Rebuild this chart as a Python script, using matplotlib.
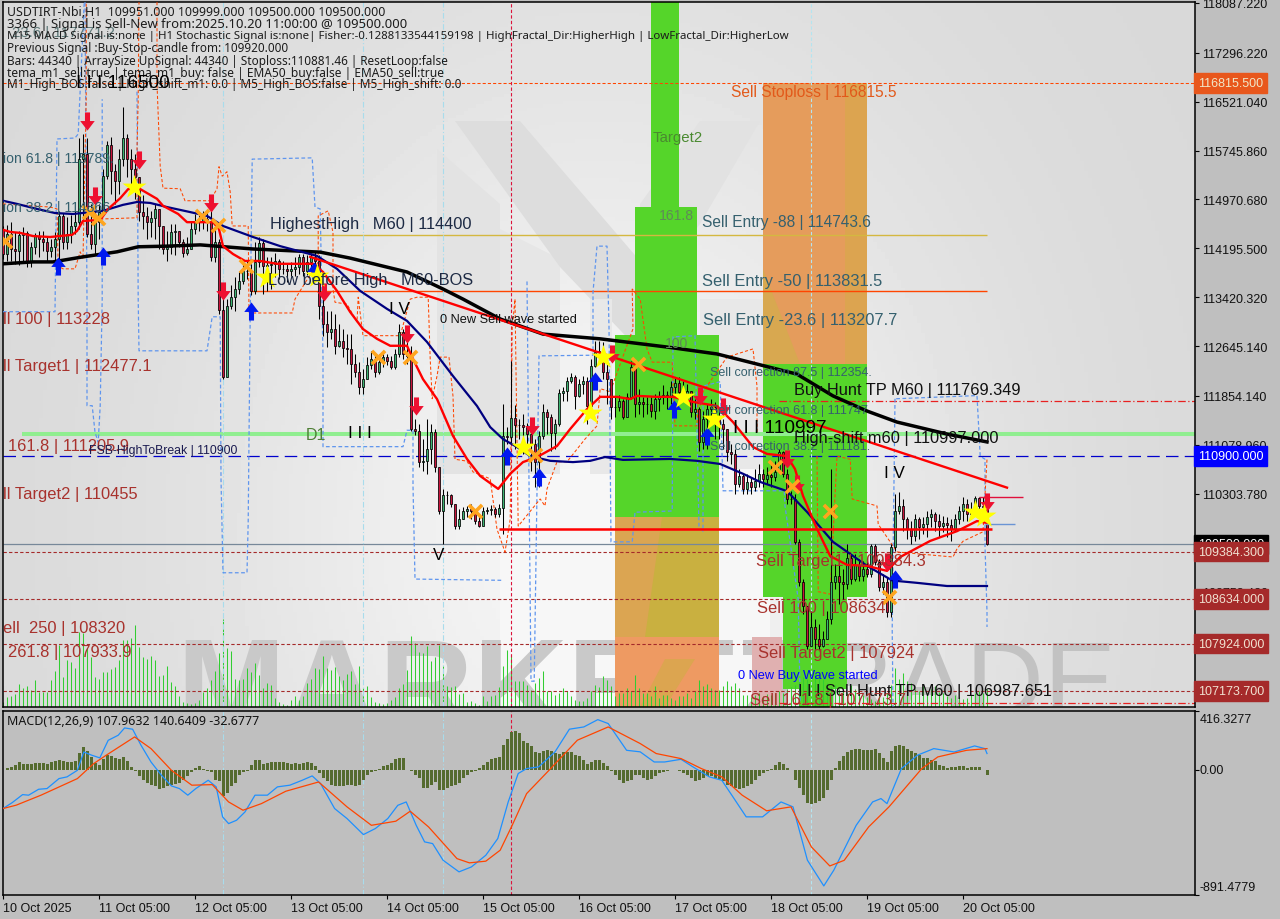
import numpy as np
import matplotlib
matplotlib.use("Agg")
import matplotlib.pyplot as plt
from matplotlib.patches import Polygon, Rectangle
from matplotlib.transforms import Affine2D

# ---------- OHLC ----------
first_open = 114500
close = [114100,114420,114180,114150,114410,114440,113980,114220,114390,114340,
114300,114150,114220,114340,114710,114300,114420,114550,114610,115610,
115690,114420,114260,114610,114770,115340,115830,115420,115260,115610,
115950,115610,115450,115330,114770,114710,114610,114680,114820,114550,
114180,114220,114450,114470,114300,114120,114180,114500,114610,114630,
114660,114630,114060,114300,113220,112160,113280,113420,113550,113680,
113840,113840,113520,113980,114280,113920,113930,113950,114000,113870,
113870,113840,113870,113900,114060,113840,113980,114060,114000,113280,
112990,112870,112920,112650,112730,112620,112600,112360,112230,111990,
112120,112350,112440,112230,112390,112470,112410,112310,112520,112870,
112520,112490,111330,111300,110810,110820,111010,111280,110730,110030,
110280,110280,110140,109790,109900,110030,110060,110030,109870,109790,
110030,110050,110060,109980,110080,111220,111200,111510,111390,111390,
111360,111250,111090,110810,111220,111600,111520,111270,111410,111900,
111930,112090,112160,111850,112040,112090,111700,112330,112550,112570,
112230,112120,111680,111680,111770,111520,111840,112310,111730,111760,
111730,111730,111620,111810,111840,111870,111840,112000,112060,111920,
111840,111930,111600,111650,111130,111490,111650,111680,111490,111410,
111330,110970,110930,110460,110580,110380,110490,110410,110510,110620,
110540,110600,110570,110650,110970,110620,110220,110220,109540,108900,
108520,107890,108190,108000,107890,108000,108320,108900,109000,108900,
108870,109280,108950,109170,109000,109110,109030,109480,109220,108820,
108900,108430,109460,110030,110110,109900,109740,109630,109900,109780,
109820,109930,109980,109870,109790,109840,109810,109740,109900,110030,
110140,109980,110060,110240,110110,110090,109500]
high = [114550,114570,114610,114450,114470,114530,114470,114300,114440,114470,
114470,114380,114340,114450,114790,114760,114690,114730,114790,115950,
116010,115950,114900,114790,114900,115450,115900,115960,115530,115770,
116440,116010,115770,115690,115140,115040,114850,114790,114900,114740,
114500,114470,114580,114580,114470,114340,114380,114630,114740,114730,
114790,114790,114850,114500,114340,113390,113390,113610,113740,113820,
113950,114000,113950,114300,114380,114340,114060,114060,114120,114030,
114000,113950,113980,114060,114110,114110,114090,114120,114150,114090,
113390,113200,113200,113150,112990,112920,112840,112840,112520,112390,
112280,112470,112570,112520,112520,112570,112520,112490,112600,112990,
112920,112840,112650,111490,111410,111170,111490,111410,111330,110730,
110380,110350,110300,110140,110060,110090,110110,110140,110060,109980,
110090,110090,110120,110090,110140,111730,111360,112410,111710,111490,
111570,111430,111330,111170,111300,111730,111650,111570,111490,111960,
112000,112160,112220,112190,112120,112170,112160,112440,112730,112730,
112710,112410,111890,111840,111870,111810,111900,112410,112410,111960,
111840,111840,111840,111890,111930,112030,111930,112090,112160,112160,
112090,112040,111930,111810,111680,111620,111730,111810,111760,111650,
111490,111330,111090,111010,110700,110620,110620,110570,110700,110780,
110700,110730,110760,110820,111010,110980,110700,110350,110300,109590,
108950,108470,108440,108320,108240,108130,108440,110700,109190,109190,
109110,109510,109350,109350,109270,109240,109270,109510,109510,109270,
109030,108980,109510,110300,110330,110220,109930,109870,109980,109930,
109930,110030,110060,110010,109980,109950,109930,109900,109980,110110,
110250,110220,110170,110270,110250,110250,110090]
low = [114030,114000,114000,113950,113930,114000,113900,113900,114110,114060,
114150,114000,114060,114000,114000,114180,114180,114280,114420,114500,
114630,114380,114180,114110,114340,114740,115300,115060,114900,115060,
115500,115330,115140,114980,114630,114500,114340,114380,114340,114180,
114110,114000,114110,114090,114220,114060,114090,114220,114420,114470,
114500,114470,114000,113980,113150,112120,112160,113230,113200,113470,
113630,113710,113460,113470,113900,113470,113520,113550,113740,113710,
113790,113660,113760,113760,113790,113760,113770,113840,113790,113080,
112800,112630,112760,112520,112630,112470,112360,112040,112160,111890,
111890,112160,112280,112160,112200,112310,112350,112280,112280,112470,
112440,112360,111300,111240,110730,110660,110620,110780,110650,109980,
109510,110140,110090,109740,109740,109900,109930,109900,109820,109780,
109820,109980,109970,109930,109930,109660,111090,111090,111010,111170,
110930,111010,110660,110410,110410,111170,111250,110980,111010,111380,
111770,111770,112060,111650,111840,111890,111410,111680,112310,112410,
112120,111730,111490,111520,111620,111490,111570,111810,111520,111570,
111520,111570,111520,111490,111620,111730,111650,111730,111840,111810,
111770,111730,111520,111490,110980,111010,111010,111490,111170,111170,
111010,110820,110780,110300,110410,110300,110300,110300,110350,110410,
110410,110460,110410,110510,110700,110570,110140,110140,109510,108840,
108400,107840,107970,107840,107840,107870,108000,108240,108790,108550,
108630,108790,108870,108920,108920,108920,108980,108980,109170,108760,
108710,108350,108350,109400,109980,109710,109590,109510,109550,109590,
109660,109620,109780,109710,109620,109700,109620,109550,109710,109820,
109870,109870,109900,109980,109980,109930,109490]
volume = [5,10,11,13,23,19,21,17,27,15,15,15,27,36,62,
30,47,45,39,75,74,59,50,30,28,35,35,38,40,47,67,67,69,82,60,50,48,51,47,31,32,41,25,21,11,5,4,3,4,7,15,19,27,36,54,88,59,56,28,27,28,39,35,44,32,19,24,22,9,5,3,2,7,11,7,11,24,28,39,38,51,39,37,40,31,27,33,36,23,41,19,21,10,5,4,3,4,7,10,19,23,37,71,64,55,54,61,46,50,62,41,21,20,21,13,14,5,6,4,2,11,6,11,12,20,
41,57,52,26,26,26,22,17,24,29,36,16,16,12,14,19,16,11,7,6,6,9,16,22,20,31,27,21,11,14,14,19,16,32,19,14,14,11,21,9,12,12,9,7,11,11,14,9,16,27,21,23,19,17,17,21,26,21,24,19,12,12,
10,12,14,11,13,12,14,16,14,18,20,22,25,30,28,26,34,30,28,24,20,22,18,16,14,22,18,16,12,10,8,6,12,10,14,22,
39,28,34,26,24,18,16,21,14,18,21,15,14,11,9,12,10,8,9,12,14,16,14,18]

# ---------- moving averages ----------
red_bars = [0,1.8,4.3,7.5,11.8,17.3,18.5,20,24.3,26.3,29.3,31.3,34.3,38.5,40,43.8,46,49.8,52.5,54,55,57.5,60.5,64.3,68.5,72.5,77.5,80,83.5,86.8,90,93.5,96.8,101,102.5,105,108.5,112.5,116,119.3,123.8,126.8,130,133.5,138.5,141.8,146,149.3,153.5,156.8,158.5,163.5,167.5,172.5,178.5,182.5,187.5,191,196,198,200,203.5,206.8,211,216,221,224.3,231.8,238.5,243.5,246]
red_vals = [114490,114455,114440,114390,114375,114410,114470,114630,114645,114820,114990,115135,115135,114980,114870,114740,114610,114610,114610,114500,114230,114105,113995,113995,113950,113950,113950,113820,113520,113185,112915,112760,112650,112650,112440,112120,111805,111220,110855,110585,110380,110620,110805,110885,111060,111330,111645,111840,111840,111805,111855,111840,111840,111760,111695,111440,111045,110935,110900,110695,110270,109745,109315,109175,109160,109080,109300,109555,109710,109870,109840]
navy_bars = [0,3.5,8.5,13,17.5,25,30,33.5,36.8,41,46.8,51,55,62.5,69.3,78.5,83.5,89.3,96,101,106,112.5,118.5,121.8,125,128.5,131.8,136.8,142.5,146.8,150.5,155,166.8,173.5,179.3,185,189.3,196,201,207.5,216,222.5,223.5,228.5,236,246]
navy_vals = [114950,114900,114820,114755,114740,114790,114885,114930,114915,114850,114770,114710,114550,114375,114230,114075,113870,113520,113235,113045,112710,112170,111695,111360,111170,111045,110900,110825,110805,110825,110885,110840,110855,110825,110775,110620,110490,110345,110015,109540,109160,108920,108920,108890,108840,108840]
black_bars = [0,7.5,12.5,20,28.5,33.8,41,49.3,62.5,79.3,86.8,101,110,115,124.3,135,149.3,166,178.5,188.5,198.5,207.5,216,223.5,236,246]
black_vals = [113950,113980,113980,114060,114140,114220,114230,114250,114185,114135,114040,113820,113550,113390,113075,112835,112760,112630,112520,112360,112200,111855,111615,111440,111250,111125]

# ---------- dashed band segments (bar, price) ----------
blue_band = [
 [(0,113190),(13,113190),(13.5,115930),(18,115945),(18.8,116010),(20.3,118100)],
 [(20.5,118100),(21,113390),(21,111700),(22.3,111700),(23,111280),(23.8,111120),(24.3,111700),(24.8,113390),(24.8,116560)],
 [(33.5,116680),(33.8,113390),(34,112570),(51,112570),(52.3,113110),(54.3,113110),(54.5,110540),(55,109050),(61,109050),(61.3,109860),(61.8,113120),(62.3,115610),(77.3,115630),(78,114850),(79.3,114820),(80,112490),(80,111050),(100,111050),(101,111310),(102.5,111310),(102.5,110430),(103,108950),(125,108930)],
 [(131,113670),(132,107330),(132.8,107330),(134,112490),(147.5,112500),(147.5,113500),(148.5,114230),(151,114230),(151.5,112950),(152,109540),(157.3,109540),(158,110010),(167.3,110030),(167.5,112790),(173,112810),(174,109790),(175,109710),(175,112010),(179.3,112080),(180,110350),(195.3,110350),(195.5,110110),(198.8,108630),(199.3,107000)],
 [(223,111810),(222.3,108160),(222.5,106930)],
 [(223.3,111810),(243.5,111860),(244.3,110900),(245.5,110850),(245.5,109480),(246,108430),(246,108190)],
]
orange_band = [
 [(0,114900),(11.8,114850),(13.5,114820),(13.8,113915),(15,113870),(18,113870),(19.3,114140),(20,114030),(20.8,116560),(20.8,118100)],
 [(24.3,114660),(33.5,114680),(33.5,115770),(33.8,116560),(34,118100)],
 [(38.5,118100),(38.5,116800),(39.3,115500),(40,115150),(44.3,115140),(45.5,114950),(51.8,114950),(53.5,115140),(54,115490),(54.8,115340),(56,115410),(56.8,115090),(57.3,114550),(61.3,114550),(61.5,113150)],
 [(62.5,113170),(72.3,113170),(73,113390),(78.8,113980),(78.8,114710),(81.3,114790),(82.5,114450),(82.5,113550),(83,113340),(86,113310),(88.5,113030),(88.8,113420),(90,112810),(99.3,112810),(101.8,113390),(103.5,113420),(106.3,113420),(106.8,112440),(107.3,111810),(108.5,112170),(109.3,112470),(111.5,112470),(112.5,111850),(113,110850),(116,110820),(117.5,110650),(121.8,110540),(123.5,109740),(125.5,109380),(126.8,109900),(127.3,112920),(128,113390),(128.8,109790),(134.3,110220),(135.5,110110),(136,110380),(138.5,110810),(141,110810),(145.5,111170),(148.5,111380),(149.3,111970),(151.8,111920),(157.5,112920),(157.3,113550),(159.3,113390),(161,112600),(162.3,112390),(167.3,112390),(168,111380),(173.5,111380),(173.8,111810),(181,112470),(187.5,112600),(188.5,112010),(188.5,111280)],
 [(203.5,110900),(203.8,108750),(206.8,108710),(208.5,110900),(211.8,110850),(212.3,110220),(218.5,110110),(218.8,109820),(223.5,109380),(237.5,109300),(238.5,109430),(240,109550),(245,109700),(246,110850)],
]

# ---------- signals (bar, price) ----------
sell_bars = [21,23,34,52,55,80.3,101,103.3,132.3,152.3,174.3,180,196,198.5,221,246]
sell_vals = [116215,115025,115600,114915,113520,113500,112835,111695,111380,112520,111855,111680,110855,110460,109220,110170]
buy_bars = [13.8,25,62,77.8,126,134,148,167.8,176,223]
buy_vals = [113915,114075,113200,113840,110900,110570,112090,111650,111220,108950]
star_bars = [32.8,66,78.5,130,146.8,150,170,177.8,243,245.3]
star_vals = [115170,113740,113760,111045,111585,112470,111840,111490,110015,109950]
cross_bars = [0.5,21.5,23.8,49.8,53.8,60.8,93.8,101.8,118,133,158.8,193,197.3,206.8,221.5]
cross_vals = [114310,114770,114680,114710,114565,113915,112470,112470,110030,110920,112360,110730,110425,110030,108665]

# ---------- zones: bar0, bar1, price0, price1, colour ----------
zones = [
 (162,169,118100,114850,'#55d52a'),
 (158,173.5,114850,112820,'#55d52a'),
 (153,179,112820,109940,'#55d52a'),
 (153,179,109940,108030,'#c9b040'),
 (153,179,108030,106920,'#ee9a62'),
 (190,216,116820,112360,'#e59c5c'),
 (210.5,216,116820,112360,'#dca450'),
 (190,216,112360,108670,'#55d52a'),
 (195,211,108670,107210,'#55d52a'),
 (199.3,207.5,107210,106920,'#55d52a'),
 (187.3,194.8,108030,106920,'#e0b0b0'),
]

# ---------- MACD ----------
macd_bars = [0,2.3,4.9,6.4,8.9,11,14,16,18.6,20.2,22.2,24.2,26.3,28.8,30.4,32.4,34.5,37,39.6,42.1,44.1,46.2,48.2,51.3,53.3,54.9,56.4,58.4,60.5,63,66.1,68.6,71.7,74.8,77.3,79.4,82.9,86,90.1,93.1,96.2,98.7,100.8,103.3,105.4,107.4,110,114,117.1,120.7,123.7,126.3,128.8,130.9,133.9,138,141.6,145.2,148.7,151.3,155.9,159.3,162.8,165.4,169.5,172.5,176.6,179.7,182.2,185.8,189.9,194.5,197.5,201.1,205.2,207.7,213.3,217.4,219.5,221,224.6,228.6,232.7,237.8,242.9,245.5,246]
macd_vals = [-277,-235,-178,-182,-140,-135,-64,-52,-5,125,102,83,208,244,296,287,173,54,-40,-116,-135,-182,-135,-76,-123,-336,-384,-360,-301,-182,-182,-123,-111,-76,-45,-100,-277,-348,-462,-419,-348,-254,-230,-396,-514,-526,-644,-727,-692,-609,-490,-230,-28,7,19,126,287,303,355,327,137,126,54,54,73,19,-52,-76,-182,-336,-336,-230,-265,-644,-827,-715,-396,-230,-206,-242,7,102,149,125,168,149,114]
sig_bars = [0,3.3,9.5,18.6,22.7,25.8,32.9,37,42.1,47.2,52.3,56.4,60,64.6,70.7,78.9,86,92.1,98.2,101.8,106.4,113.5,116.6,120.7,124.3,127.3,130.9,136.5,143.6,151.3,159.3,163.3,169.5,174.6,179.7,184.8,190.9,197,202.1,206.7,210.3,216.4,221.5,229.7,233.7,240.9,246]
sig_vals = [-277,-253,-182,-64,43,102,232,149,-5,-111,-107,-230,-289,-242,-154,-88,-265,-396,-367,-296,-408,-633,-663,-651,-573,-396,-171,-5,209,303,185,114,78,7,-52,-182,-293,-265,-550,-685,-645,-408,-265,7,90,137,149]
macd_hist = [0,9,19,33,57,43,40,40,50,50,
50,40,52,62,71,59,57,57,59,119,
161,130,90,47,36,78,107,95,83,78,
90,59,19,-12,-43,-71,-95,-107,-119,-137,
-130,-119,-107,-100,-95,-71,-43,-19,12,28,
5,-9,-14,-71,-83,-190,-166,-119,-95,-36,
-19,-7,33,71,71,43,47,55,57,57,
52,47,38,47,43,47,52,47,24,-24,
-59,-83,-107,-119,-119,-114,-109,-109,-114,-107,
-71,-36,-19,-7,5,28,36,47,78,85,
83,0,-12,-36,-59,-130,-130,-107,-90,-142,
-142,-130,-119,-107,-95,-59,-36,-19,-7,12,
36,55,76,85,90,178,218,268,273,261,
201,190,166,123,119,130,137,130,119,114,
123,123,126,107,95,71,43,52,66,71,
47,24,-12,-36,-71,-95,-83,-71,-36,-36,
-59,-71,-66,-47,-24,-14,-7,-5,-5,-12,
-24,-36,-59,-83,-71,-59,-47,-47,-59,-66,
-83,-107,-119,-130,-137,-130,-119,-100,-71,-47,
-24,-7,7,33,52,43,12,0,
-71,-130,-178,-237,-242,-237,-225,-201,-142,-71,
12,59,95,123,137,147,147,142,142,142,
147,119,83,52,130,166,178,171,147,130,
119,107,83,83,66,59,36,24,12,19,
19,24,24,14,19,19,19,0,-36]

# ---------- axis labels ----------
price_ticks = [118087.22,117296.22,116521.04,115745.86,114970.68,114195.5,113420.32,112645.14,111854.14,111078.96,110303.78,109500.0,108753.42,107924.84]
date_bars = [0,24,48,72,96,120,144,168,192,216,240]
date_labels = ["10 Oct 2025","11 Oct 05:00","12 Oct 05:00","13 Oct 05:00","14 Oct 05:00","15 Oct 05:00","16 Oct 05:00","17 Oct 05:00","18 Oct 05:00","19 Oct 05:00","20 Oct 05:00"]
price_boxes = [(116815.5,'#e8571c','#f0e6c8'),(110900.0,'#0000ff','#ffffff'),(109500.0,'#000000','#ffffff'),(109384.3,'#a52a2a','#f0e0d0'),(108634.0,'#a52a2a','#f0e0d0'),(107924.0,'#a52a2a','#f0e0d0'),(107173.7,'#a52a2a','#f0e0d0')]

W, H = 1280, 920
PANEL = '#bfbfbf'
FONT = 'Liberation Sans'
plt.rcParams['font.family'] = FONT
fig = plt.figure(figsize=(W/100, H/100), dpi=100, facecolor=PANEL)
px = Affine2D().scale(1, -1).translate(0, H)

def box(l, t, r, b):
    return [l/W, 1-b/H, (r-l)/W, (b-t)/H]

XLIM = (0, 298)
YLIM = (106921, 118102)
ax_bg = fig.add_axes(box(3, 3, 1195, 708), zorder=0)
ax_vol = fig.add_axes(box(3, 3, 1195, 708), zorder=1)
ax = fig.add_axes(box(3, 3, 1195, 708), zorder=2)
ax_m = fig.add_axes(box(3, 712, 1195, 896), zorder=2)

# background gradient
gx = np.linspace(0, 1, 300)
gy = np.linspace(0, 1, 200)
X, Y = np.meshgrid(gx, gy)
shade = 0.845 + 0.115*np.exp(-((X-0.5)/0.33)**2)*np.exp(-((Y-0.75)/0.7)**2)
ax_bg.imshow(shade, extent=(0, 1, 0, 1), transform=ax_bg.transAxes, aspect='auto', cmap='gray', vmin=0, vmax=1, origin='upper')
ax_bg.set_xlim(XLIM); ax_bg.set_ylim(YLIM)
for poly, col in [
    ([(500,470),(770,470),(770,708),(500,708)], '#f7f7f7'),
    ([(437,150),(500,205),(500,475),(437,475)], '#e3e3e3'),
    ([(500,230),(560,260),(560,475),(500,475)], '#e6e6e6'),
    ([(455,122),(520,122),(640,262),(640,352),(560,268)], '#dddddd'),
    ([(760,122),(700,122),(640,205),(640,300),(700,225)], '#e2e2e2'),
    ([(590,300),(612,300),(612,475),(590,475)], '#e8e8e8'),
    ([(700,300),(765,300),(765,470),(700,470)], '#e8e8e8'),
]:
    ax_bg.add_patch(Polygon(poly, closed=True, fc=col, ec='none', transform=px, zorder=1))
ax_bg.text(176, 731, "MARKETZ", transform=px, fontsize=94, fontweight='bold', color='#c9c9c9', clip_on=True, zorder=2, family=FONT)
ax_bg.text(750, 717, "TRADE", transform=px, fontsize=78, color='#c2c2c2', clip_on=True, zorder=2, family=FONT)
for b0, b1, p0, p1, c in zones:
    ax_bg.add_patch(Rectangle((b0, p1), b1-b0, p0-p1, fc=c, ec='none', zorder=3))
for poly, col in [
    ([(615,518),(662,518),(645,638),(615,638)], '#dba552'),
    ([(665,660),(695,660),(665,708),(640,708)], '#dca550'),
    ([(763,270),(800,365),(763,365)], '#d8a850'),
]:
    ax_bg.add_patch(Polygon(poly, closed=True, fc=col, ec='none', transform=px, zorder=4))
ax_bg.set_xticks([]); ax_bg.set_yticks([])
for s in ax_bg.spines.values():
    s.set_visible(False)

# volumes
vx = np.arange(len(volume))
ax_vol.vlines(vx, 0, volume, color='#32cd32', lw=0.75).set_snap(True)
ax_vol.set_xlim(XLIM); ax_vol.set_ylim(0, 705)
ax_vol.patch.set_alpha(0)
ax_vol.set_xticks([]); ax_vol.set_yticks([])
for s in ax_vol.spines.values():
    s.set_visible(False)

# main
ax.patch.set_alpha(0)
ax.set_xlim(XLIM); ax.set_ylim(YLIM)
for p, c, lw, ls, b0, b1 in [
    (116815.5,'#ff4500',0.75,(0,(3,2)),None,None),
    (114400,'#d4b840',1.0,'-',62,246),
    (113520,'#ff4500',1.0,'-',62,246),
    (111769,'#e82020',0.9,(0,(6,2,1,2)),194,298),
    (111250,'#90ee90',2.9,'-',4.8,298),
    (110900,'#0000cd',0.9,(0,(10,5)),0,298),
    (109500,'#778899',0.9,'-',0,298),
    (109384.3,'#a52a2a',0.8,(0,(3,2)),0,298),
    (108634,'#a52a2a',0.8,(0,(3,2)),0,298),
    (107924,'#a52a2a',0.8,(0,(3,2)),0,298),
    (107173.7,'#a52a2a',0.8,(0,(3,2)),0,298),
    (106987.651,'#e82020',0.9,(0,(6,2,1,2)),194,298),
]:
    if b0 is None:
        ax.axhline(p, color=c, lw=lw, ls=ls, zorder=1)
    else:
        ax.hlines(p, b0, b1, color=c, lw=lw, ls=ls, zorder=1)
for a in (ax, ax_m):
    for b, c, ls in [(55,'#a8dcec',(0,(5,2,1,2))),(90,'#a8dcec',(0,(5,2,1,2))),(110,'#a8dcec',(0,(5,2,1,2))),(127,'#dc143c',(0,(3,2))),(202,'#b4e4f0',(0,(3,2)))]:
        a.axvline(b, color=c, lw=0.8, ls=ls, zorder=1)

for seg in blue_band:
    ax.plot(*zip(*seg), color='#5f95ee', lw=0.9, ls=(0,(3,2)), zorder=3)
for seg in orange_band:
    ax.plot(*zip(*seg), color='#ff4500', lw=0.75, ls=(0,(3,2)), zorder=3)

o = np.array([first_open] + close[:-1], float)
c = np.array(close, float)
hi = np.maximum.reduce([np.array(high, float), o, c])
lo = np.minimum.reduce([np.array(low, float), o, c])
bx = np.arange(len(c))
ax.vlines(bx, lo, hi, color='black', lw=0.75, zorder=4).set_snap(True)
colors = np.where(c >= o, '#3cb371', '#c8143c')
ax.bar(bx, np.abs(c-o), bottom=np.minimum(c, o), width=0.7, color=colors, edgecolor='black', linewidth=0.55, zorder=5)

ax.plot(black_bars, black_vals, color='black', lw=2.5, zorder=6, solid_joinstyle='round')
ax.plot(navy_bars, navy_vals, color='#000080', lw=1.6, zorder=6)
ax.plot(red_bars, red_vals, color='#ff0000', lw=1.7, zorder=7)
# trend line and short levels
ax.plot([76.8, 251], [114060, 110400], color='#ff0000', lw=1.7, zorder=7)
ax.hlines(109750, 124, 247.3, color='#ff0000', lw=1.8, zorder=7)
ax.hlines(110250, 244, 255, color='#e0103c', lw=1.0, zorder=7)
ax.hlines(109825, 245.5, 253, color='#6a94d4', lw=1.0, zorder=7)

down = [(-.28,1),(.28,1),(.28,.05),(.8,.05),(0,-1),(-.8,.05),(-.28,.05),(-.28,1)]
up = [(x, -y) for x, y in down]
ax.scatter(sell_bars, sell_vals, marker=down, s=170, color='#ee1030', zorder=9, linewidths=0)
ax.scatter(buy_bars, buy_vals, marker=up, s=170, color='#0018f0', zorder=9, linewidths=0)
ax.scatter(star_bars, star_vals, marker='*', s=330, color='#ffff00', zorder=9, linewidths=0)
ax.scatter(cross_bars, cross_vals, marker='x', s=90, color='#ffa51e', zorder=9, linewidths=2.6)

ax.set_xticks([])
ax.yaxis.tick_right()
ax.set_yticks(price_ticks)
ax.set_yticklabels([f"{v:.3f}" for v in price_ticks], fontsize=9, color='#111111', family=FONT)
ax.tick_params(axis='y', length=3, width=0.8, pad=2, color='black')
for s in ax.spines.values():
    s.set_linewidth(1.1)
for p, fc, tc in price_boxes:
    ax.text(1.0025, p, f"{p:.3f}", transform=ax.get_yaxis_transform(), va='center', ha='left', fontsize=9, color=tc,
            bbox=dict(fc=fc, ec=fc, pad=2.6), zorder=20, clip_on=False)

# MACD
ax_m.set_facecolor(PANEL)
ax_m.bar(np.arange(len(macd_hist)), macd_hist, width=0.75, color='#556b2f', zorder=2)
ax_m.plot(macd_bars, macd_vals, color='#1e90ff', lw=0.9, zorder=3)
ax_m.plot(sig_bars, sig_vals, color='#ff4500', lw=0.9, zorder=4)
ax_m.set_xlim(XLIM); ax_m.set_ylim(-891.4779, 416.3277)
ax_m.yaxis.tick_right()
ax_m.set_yticks([416.3277, 0, -891.4779])
ax_m.set_yticklabels(["", "", ""])
ax_m.set_xticks(date_bars)
ax_m.set_xticklabels(date_labels, fontsize=9, ha='left', color='#111111')
ax_m.tick_params(axis='x', length=3, width=0.8, pad=2)
ax_m.tick_params(axis='y', length=3, width=0.8, pad=2)
for s in ax_m.spines.values():
    s.set_linewidth(1.1)

def T(x, y, s, color='black', size=16, **kw):
    dy = 1 if size >= 15 else 0
    fig.text(x, y+dy, s, transform=px, color=color, fontsize=size*0.72, va='center', ha='left', zorder=10, **kw)

SL = '#35606e'
BR = '#a8322d'
T(1200, 720, "416.3277", '#111111', 12.5)
T(1200, 771, "0.00", '#111111', 12.5)
T(1200, 888, "-891.4779", '#111111', 12.5)
T(12, 32, "23.6 | 117771.2", '#5f7a7a', 15)
for y, s, sz in [(13,"USDTIRT-Nbi,H1  109951.000 109999.000 109500.000 109500.000",12.3),
             (25,"3366 | Signal is Sell-New from:2025.10.20 11:00:00 @ 109500.000",13.1),
             (37,"M15 MACD Signal is:none | H1 Stochastic Signal is:none| Fisher:-0.1288133544159198 | HighFractal_Dir:HigherHigh | LowFractal_Dir:HigherLow",11.5),
             (49,"Previous Signal :Buy-Stop-candle from: 109920.000",11.75),
             (62,"Bars: 44340 | ArraySize UpSignal: 44340 | Stoploss:110881.46 | ResetLoop:false",11.77),
             (74,"tema_m1_sell:true | tema_m1_buy: false | EMA50_buy:false | EMA50_sell:true",11.94),
             (85,"M1_High_BOS:false | High_shift_m1: 0.0 | M5_High_BOS:false | M5_High_shift: 0.0",11.78)]:
    T(7, y, s, '#1c1c1c', sz, family='Noto Sans')
T(76, 83, "I I I 116500", 'black', 19)
T(3, 159, "ion 61.8 | 115789.", SL, 14)
T(3, 208, "ion 38.2 | 114866", SL, 14)
T(270, 224, "HighestHigh   M60 | 114400", '#1d2a44', 16.4)
T(268, 280, "Low before High   M60-BOS", '#1d2a44', 16.4)
T(389, 309, "I V", 'black', 17)
T(440, 320, "0 New Sell wave started", '#111111', 12.8)
T(3, 319, "ll 100 | 113228", BR, 16.5)
T(3, 366, "ll Target1 | 112477.1", BR, 16.5)
T(8, 446, "161.8 | 111205.9", BR, 16.5)
T(89, 451, "FSB-HighToBreak | 110900", '#1a1a50', 12.3)
T(306, 435, "D1", '#4f7f36', 16)
T(348, 433, "I I I", 'black', 17)
T(3, 494, "ll Target2 | 110455", BR, 16.5)
T(433, 555, "V", 'black', 17)
T(3, 628, "ell  250 | 108320", BR, 16.5)
T(8, 652, "261.8 | 107933.9", BR, 16.5)
T(653, 137, "Target2", '#4a8a30', 15)
T(659, 216, "161.8", '#5f8a58', 14)
T(665, 344, "100", '#5f8a58', 14)
T(731, 92, "Sell Stoploss | 116815.5", '#e2591a', 15.5)
T(702, 222, "Sell Entry -88 | 114743.6", SL, 15.5)
T(702, 281, "Sell Entry -50 | 113831.5", SL, 16.5)
T(703, 320, "Sell Entry -23.6 | 113207.7", SL, 16.5)
T(710, 373, "Sell correction 87.5 | 112354.", SL, 12.5)
T(710, 411, "Sell correction 61.8 | 111747", SL, 12.5)
T(710, 447, "Sell correction 38.2 | 111181.", SL, 12.5)
T(794, 390, "Buy Hunt TP M60 | 111769.349", '#111111', 16.4)
T(794, 438, "High-shift m60 | 110997.000", '#111111', 16.4)
T(733, 428, "I I I 110997", 'black', 19)
T(884, 473, "I V", 'black', 17)
T(756, 561, "Sell Target1 | 109384.3", BR, 16.5)
T(757, 608, "Sell 100 | 108634", BR, 16.5)
T(758, 653, "Sell Target2 | 107924", BR, 16.5)
T(738, 676, "0 New Buy Wave started", '#0000ff', 12.8)
T(798, 691, "I I I Sell Hunt TP M60 | 106987.651", '#111111', 16.2)
T(750, 700, "Sell 161.8 | 107173.7", BR, 16.5)
T(7, 722, "MACD(12,26,9) 107.9632 140.6409 -32.6777", '#111111', 12.5, family='Noto Sans')

fig.savefig("out.png", dpi=100, facecolor=PANEL)
